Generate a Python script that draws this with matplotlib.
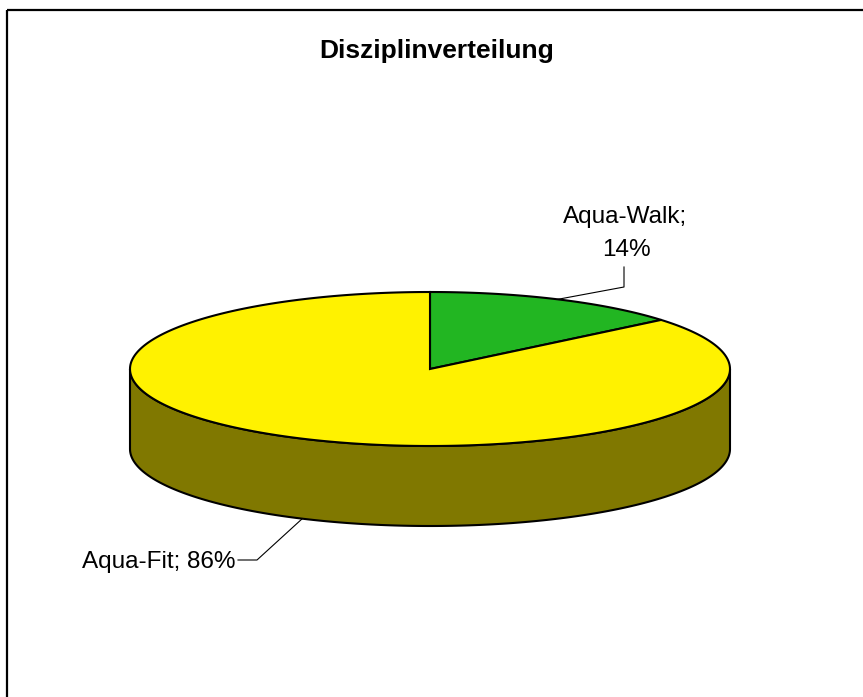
import matplotlib.pyplot as plt
import numpy as np
from matplotlib.patches import Polygon, Rectangle

plt.rcParams['font.family'] = ['Liberation Sans', 'DejaVu Sans']

# data
labels = ['Aqua-Walk', 'Aqua-Fit']
values = [14, 86]
top_colors = ['#22B622', '#FFF200']
side_colors = ['#116011', '#807800']
title = 'Disziplinverteilung'

# pie geometry in pixels
cx, cy = 430, 369
a, b = 300, 77
depth = 80

fig = plt.figure(figsize=(8.63, 6.97), dpi=100)
ax = fig.add_axes([0, 0, 1, 1])
ax.set_xlim(0, 863)
ax.set_ylim(697, 0)
ax.axis('off')

ax.add_patch(Rectangle((7, 10), 900, 800, fill=False, edgecolor='black', lw=1.6))


def ell(t, dy=0):
    t = np.radians(t)
    return cx + a * np.cos(t), cy + dy - b * np.sin(t)


fr = np.array(values) / np.sum(values)
starts = 90 - 360 * np.concatenate([[0], np.cumsum(fr)[:-1]])
ends = starts - 360 * fr

# front side wall (t from 180 to 360), belongs to the slice covering it
t = np.linspace(180, 360, 200)
x1, y1 = ell(t)
x2, y2 = ell(t[::-1], depth)
side_idx = 1
ax.add_patch(Polygon(np.column_stack([np.r_[x1, x2], np.r_[y1, y2]]),
                     closed=True, facecolor=side_colors[side_idx],
                     edgecolor='black', lw=1.5, zorder=2))

for i in range(len(values)):
    t = np.linspace(starts[i], ends[i], 300)
    x, y = ell(t)
    pts = np.column_stack([np.r_[cx, x], np.r_[cy, y]])
    ax.add_patch(Polygon(pts, closed=True, facecolor=top_colors[i],
                         edgecolor='black', lw=1.5, zorder=3))

ax.text(437, 51, title, ha='center', va='center', fontsize=19,
        fontweight='bold')

# labels and leader lines
mid = (starts + ends) / 2
px, py = ell(mid[0])
ax.plot([px, 624, 624], [py, 287, 267], color='black', lw=0.8)
ax.text(625, 223, f'{labels[0]};', ha='center', va='baseline', fontsize=17.5)
ax.text(626, 256, f'{values[0]}%', ha='center', va='baseline', fontsize=17.5)

px, py = ell(mid[1], depth)
ax.plot([px, 257, 238], [py, 560, 560], color='black', lw=0.8)
ax.text(82, 568, f'{labels[1]}; {values[1]}%', ha='left', va='baseline',
        fontsize=17.5)

fig.savefig('out.png', dpi=100, facecolor='white')
